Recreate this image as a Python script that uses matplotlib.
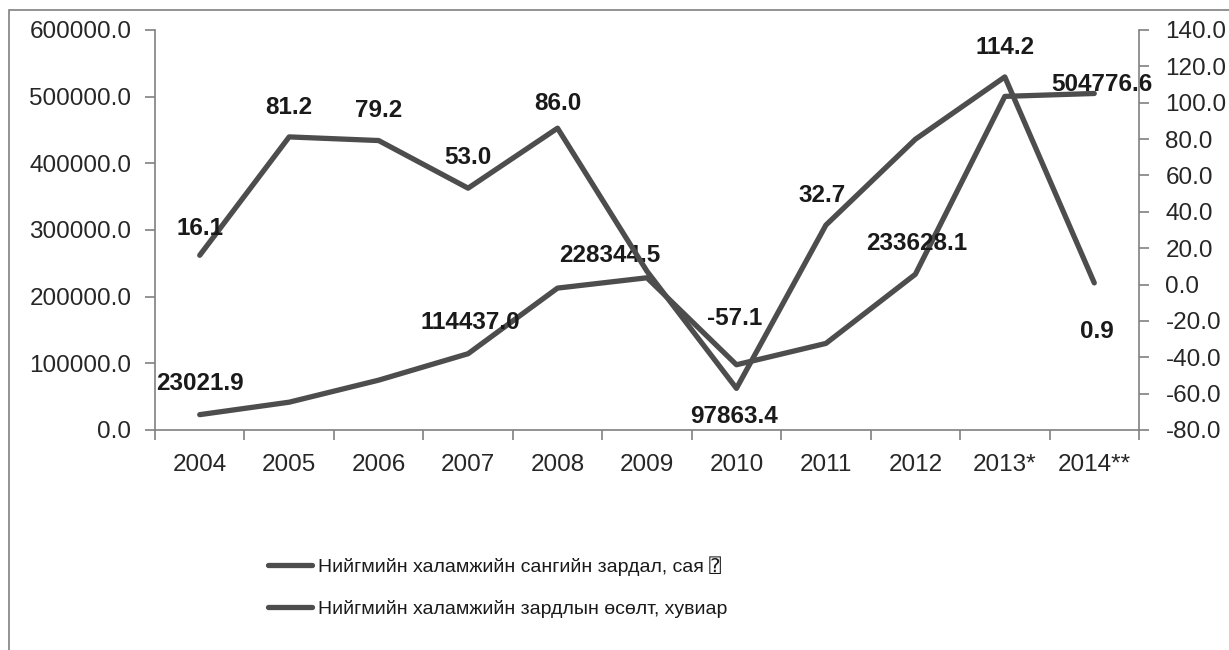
import matplotlib
matplotlib.use("Agg")
import matplotlib.pyplot as plt
from matplotlib.ticker import FormatStrFormatter, FixedLocator
from matplotlib.patches import Rectangle

years = ["2004", "2005", "2006", "2007", "2008", "2009", "2010", "2011", "2012", "2013*", "2014**"]
expense = [23021.9, 41716.0, 74755.0, 114437.0, 212853.0, 228344.5, 97863.4, 129865.0, 233628.1, 500431.0, 504776.6]
growth = [16.1, 81.2, 79.2, 53.0, 86.0, 7.3, -57.1, 32.7, 79.9, 114.2, 0.9]
expense_label_idx = [0, 3, 5, 6, 8, 10]
growth_label_idx = [0, 1, 2, 3, 4, 6, 7, 9, 10]
legend_labels = ["Нийгмийн халамжийн сангийн зардал, сая ⍰",
                 "Нийгмийн халамжийн зардлын өсөлт, хувиар"]

W, H = 1229, 650
DPI = 100
fig = plt.figure(figsize=(W / DPI, H / DPI), dpi=DPI)
fig.patch.set_facecolor("white")

# figure border
fig.patches.append(Rectangle((9 / W, -0.05), 1.1, 1 - 10 / H + 0.05, transform=fig.transFigure,
                             fill=False, edgecolor="#808080", linewidth=1.2))

ax = fig.add_axes([155 / W, 1 - 430 / H, 984 / W, 400 / H])
ax2 = ax.twinx()

line_col = "#4d4d4d"
axis_col = "#808080"
fams = ["Liberation Sans", "DejaVu Sans", "DejaVu Sans Mono"]
tick_size = 17.5
lab_font = dict(family=fams, size=17.5, weight="bold")

x = list(range(len(years)))
l1, = ax.plot(x, expense, color=line_col, lw=3.8, solid_capstyle="round", zorder=3)
l2, = ax2.plot(x, growth, color=line_col, lw=3.8, solid_capstyle="round", zorder=3)

ax.set_xlim(-0.5, len(years) - 0.5)
ax.set_ylim(0, 600000)
ax2.set_ylim(-80, 140)
ax.set_yticks(range(0, 600001, 100000))
ax2.set_yticks(range(-80, 141, 20))
ax.yaxis.set_major_formatter(FormatStrFormatter("%.1f"))
ax2.yaxis.set_major_formatter(FormatStrFormatter("%.1f"))

ax.xaxis.set_major_locator(FixedLocator([i - 0.5 for i in range(len(years) + 1)]))
ax.xaxis.set_minor_locator(FixedLocator(x))
ax.set_xticklabels([], minor=False)
ax.set_xticklabels(years, minor=True)
ax.tick_params(axis="x", which="major", length=7, width=1.2, color=axis_col, direction="out")
ax.tick_params(axis="x", which="minor", length=0, pad=17)

for a in (ax, ax2):
    for s in a.spines.values():
        s.set_visible(False)
ax.spines["left"].set_visible(True)
ax.spines["bottom"].set_visible(True)
ax2.spines["right"].set_visible(True)
for s in (ax.spines["left"], ax.spines["bottom"], ax2.spines["right"]):
    s.set_color(axis_col)
    s.set_linewidth(1.2)

ax.tick_params(axis="y", length=7, width=1.2, color=axis_col, pad=10)
ax2.tick_params(axis="y", length=7, width=1.2, color=axis_col, pad=12)
for lab in ax.get_yticklabels() + ax2.get_yticklabels() + ax.get_xticklabels(minor=True):
    lab.set_fontfamily(fams)
    lab.set_fontsize(tick_size)
    lab.set_color("#262626")

px = 72 / DPI
# label offsets in pixels (dx, dy up)
exp_off = {0: (0, 31), 3: (2, 31), 5: (-37, 22), 6: (-2, -52), 8: (1, 31), 10: (8, 9)}
gro_off = {0: (0, 27), 1: (0, 29), 2: (0, 30), 3: (0, 31), 4: (0, 25), 6: (-2, 70),
           7: (-4, 30), 9: (0, 29), 10: (3, -49)}
for i in expense_label_idx:
    dx, dy = exp_off[i]
    ax.annotate(f"{expense[i]:.1f}", (x[i], expense[i]), xytext=(dx * px, dy * px),
                textcoords="offset points", ha="center", va="center", color="#1a1a1a",
                zorder=5, **lab_font)
for i in growth_label_idx:
    dx, dy = gro_off[i]
    ax2.annotate(f"{growth[i]:.1f}", (x[i], growth[i]), xytext=(dx * px, dy * px),
                 textcoords="offset points", ha="center", va="center", color="#1a1a1a",
                 zorder=5, **lab_font)

leg = fig.legend([l1, l2], legend_labels, loc="upper left",
                 bbox_to_anchor=(268 / W, 1 - 556 / H), frameon=False, borderpad=0,
                 borderaxespad=0, handlelength=2.25, handletextpad=0.3, labelspacing=1.25,
                 prop=dict(family=fams, size=14))
for t in leg.get_texts():
    t.set_color("#1a1a1a")

fig.savefig("out.png", dpi=DPI, facecolor="white")
